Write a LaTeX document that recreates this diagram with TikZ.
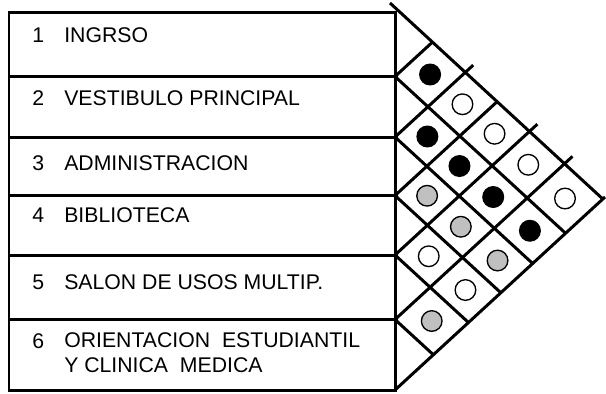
\documentclass[tikz,border=0pt]{standalone}
\usepackage{fontspec}
\setmainfont{Liberation Sans}
\definecolor{silver}{RGB}{192,192,192}
\tikzset{
    frame/.style={line width=2pt},
    rel/.style={circle, draw, line width=0.9pt, minimum size=13.8pt, inner sep=0pt},
    room/.style={anchor=west, font=\fontsize{14.2}{16.7}\selectfont, align=left, inner sep=0pt}
}
\begin{document}
\begin{tikzpicture}[x=0.0235cm,y=-0.0235cm]
        \useasboundingbox (0,0) rectangle (606,393);
        % rooms
            \draw[frame] (9,12) rectangle (395,390);
            \foreach \y in {76.5,137,195.5,255,319.5}{
                \draw[frame] (9,\y) -- (398,\y);
            }
            \foreach \y/\n/\t in {35/1/INGRSO,98/2/VESTIBULO PRINCIPAL,163/3/ADMINISTRACION,215/4/BIBLIOTECA,282/5/SALON DE USOS MULTIP.}{
                \node[room] (n\n) at (32,\y) {\n};
                \node[room] (r\n) at (64,\y) {\t};
            }
            \node[room] (n6) at (32,341) {6};
            \node[room] (r6) at (64,353) {ORIENTACION\ \ ESTUDIANTIL\\Y CLINICA\ \ MEDICA};
        % matrix
            \def\bnd{{8,76.5,137,195.5,255,319.5,390}}
            \coordinate (apex) at (602.8,199);
            \draw[frame] (390,3) -- (apex);
            \draw[frame] (395,390) -- (605,197);
            \foreach \i/\e in {1/0,2/8,3/0,4/8,5/8}{
                \pgfmathsetmacro\yb{\bnd[\i]}
                \draw[frame] (395,\yb) -- ({395+0.544*(390-\yb)},{(\yb+390)/2});
                \draw[frame] (395,\yb) -- ({395+0.544*(\yb-8)+\e},{(\yb+8)/2-\e/1.088});
            }
        % relations
            \foreach \i/\j/\f in {1/2/black,1/3/white,1/4/white,1/5/white,1/6/white,
                                  2/3/black,2/4/black,2/5/black,2/6/black,
                                  3/4/silver,3/5/silver,3/6/silver,
                                  4/5/white,4/6/white,5/6/silver}{
                \pgfmathtruncatemacro\ip{\i-1}
                \pgfmathtruncatemacro\jp{\j-1}
                \pgfmathsetmacro\ya{\bnd[\ip]}
                \pgfmathsetmacro\yb{\bnd[\i]}
                \pgfmathsetmacro\yc{\bnd[\jp]}
                \pgfmathsetmacro\yd{\bnd[\j]}
                \pgfmathsetmacro\mi{(\ya+\yb)/2}
                \pgfmathsetmacro\mj{(\yc+\yd)/2}
                \node[rel, fill=\f] (c\i\j) at ({395+0.544*(\mj-\mi)},{(\mi+\mj)/2}) {};
            }
        \end{tikzpicture}
\end{document}
